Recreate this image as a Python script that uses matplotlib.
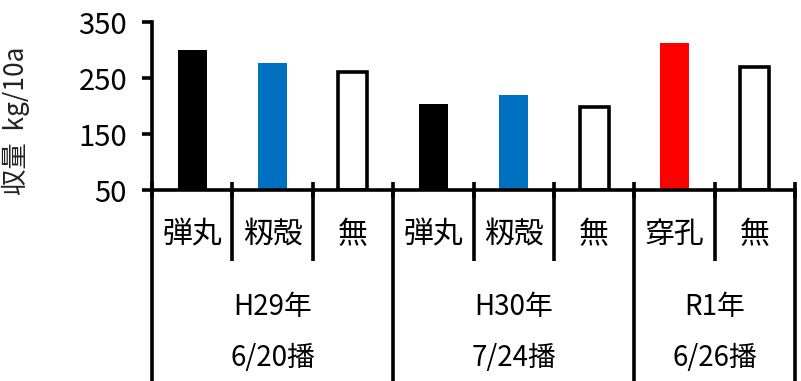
import matplotlib
matplotlib.use("Agg")
import matplotlib.pyplot as plt
import matplotlib.transforms as mtransforms

plt.rcParams['font.family'] = ['Noto Sans CJK JP', 'DejaVu Sans']

# yield per treatment (kg/10a)
treatments = ["弾丸", "籾殻", "無", "弾丸", "籾殻", "無", "穿孔", "無"]
yields = [300, 276, 261, 203, 219, 198, 312, 269]
fills = ["black", "#0070C0", "white", "black", "#0070C0", "white", "#FF0000", "white"]
edges = ["none", "none", "black", "none", "none", "black", "none", "black"]

years = ["H29年", "H30年", "R1年"]
sowing = ["6/20播", "7/24播", "6/26播"]
group_sizes = [3, 3, 2]

yticks = [50, 150, 250, 350]

fig = plt.figure(figsize=(8.01, 3.81), dpi=100)
ax = fig.add_axes([152 / 801, 1 - 190 / 381, 643 / 801, 168 / 381])

x = list(range(len(treatments)))
for xi, v, fc, ec in zip(x, yields, fills, edges):
    ax.bar(xi, v - 50, bottom=50, width=0.36, color=fc,
           edgecolor=ec, linewidth=2.6 if ec != "none" else 0)

ax.set_xlim(-0.5, len(treatments) - 0.5)
ax.set_ylim(50, 350)
ax.set_yticks(yticks)
ax.tick_params(axis='y', direction='out', length=7, width=2.6, labelsize=21, pad=11)
ax.set_xticks([i - 0.5 for i in range(len(treatments) + 1)])
ax.set_xticklabels([])
ax.tick_params(axis='x', direction='inout', length=12, width=2.6)

for side in ("top", "right"):
    ax.spines[side].set_visible(False)
for side in ("left", "bottom"):
    ax.spines[side].set_linewidth(2.6)

ax.set_ylabel("収量  kg/10a", fontsize=19, color="#222222")
ax.yaxis.set_label_coords(-0.19, 0.41)

# category table below the axis
trans = mtransforms.blended_transform_factory(ax.transData, ax.transAxes)
bottom = -1.14
short = -0.42
line_kw = dict(color="black", linewidth=2.6, transform=trans, clip_on=False,
               solid_capstyle="butt")

bounds = [0]
for n in group_sizes:
    bounds.append(bounds[-1] + n)

for i in range(len(treatments) + 1):
    xb = i - 0.5
    if i in bounds:
        ax.plot([xb, xb], [0, bottom], **line_kw)
    else:
        ax.plot([xb, xb], [0, short], **line_kw)

for xi, lab in zip(x, treatments):
    ax.text(xi, -0.265, lab, transform=trans, ha="center", va="center", fontsize=21.5)

for g, (yr, sw) in enumerate(zip(years, sowing)):
    cx = (bounds[g] + bounds[g + 1] - 1) / 2
    ax.text(cx, -0.695, yr, transform=trans, ha="center", va="center", fontsize=20)
    ax.text(cx, -1.0, sw, transform=trans, ha="center", va="center", fontsize=20)

fig.savefig("out.png", dpi=100)
